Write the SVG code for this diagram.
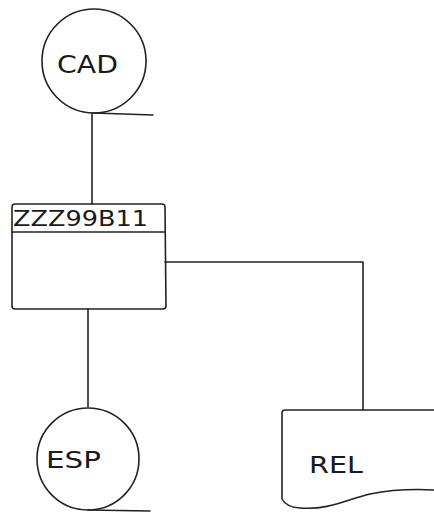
<svg xmlns="http://www.w3.org/2000/svg" width="434" height="514" viewBox="0 0 434 514">
<style>
.s{fill:none;stroke:#222;stroke-width:1.6;stroke-linecap:round;stroke-linejoin:round}
.t{font-family:"DejaVu Sans","Liberation Sans",sans-serif;fill:#1a1a1a}
</style>
<rect width="434" height="514" fill="#fff"/>
<g id="connectors">
<path class="s" d="M92,113 L92,204"/>
<path class="s" d="M165,262 L363,262 L363,410"/>
<path class="s" d="M88,309 L88,407"/>
</g>
<g id="CAD">
<circle class="s" cx="94" cy="61" r="52"/>
<path class="s" d="M94,113 L153,115"/>
<text class="t" x="57" y="73" font-size="24" textLength="61" lengthAdjust="spacingAndGlyphs">CAD</text>
</g>
<g id="ZZZ99B11">
<path class="s" d="M15,204 L162,204 Q165,204 165,207 L166,306 Q166,309 163,309 L15,309 Q12,309 12,306 L12,207 Q12,204 15,204 Z"/>
<path class="s" d="M12,232 L165,232"/>
<text class="t" x="13" y="226" font-size="22" textLength="135" lengthAdjust="spacingAndGlyphs">ZZZ99B11</text>
</g>
<g id="ESP">
<circle class="s" cx="88" cy="459" r="51"/>
<path class="s" d="M88,510 L150,511"/>
<text class="t" x="46" y="468" font-size="23" textLength="55" lengthAdjust="spacingAndGlyphs">ESP</text>
</g>
<g id="REL">
<path class="s" d="M435,410 L285,410 Q282,410 282,413 L282,499 Q286,507 300,508 C330,510 345,500 370,494 C395,489 415,489 435,490"/>
<text class="t" x="309" y="473" font-size="23" textLength="54" lengthAdjust="spacingAndGlyphs">REL</text>
</g>
</svg>
